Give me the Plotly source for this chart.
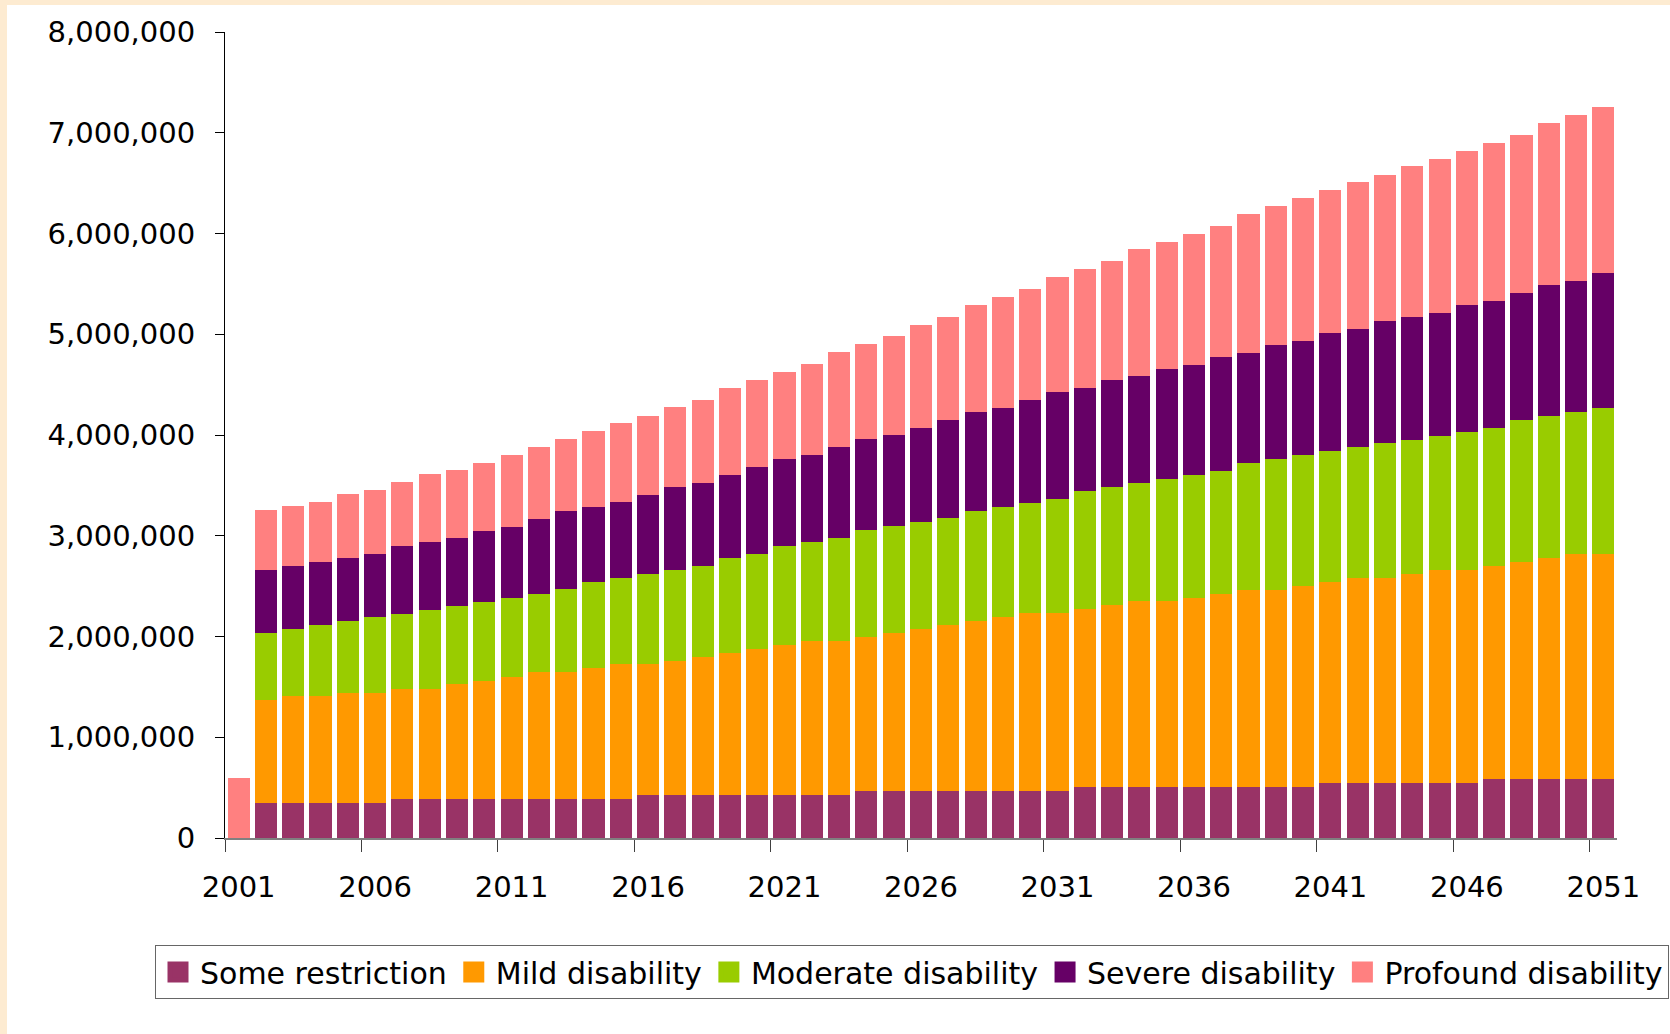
import plotly.graph_objects as go

# ---------------- data ----------------
years = list(range(2001, 2052))
tick_years = [2001, 2006, 2011, 2016, 2021, 2026, 2031, 2036, 2041, 2046, 2051]

some_restriction = [
    0, 351_000, 351_000, 351_000, 351_000, 351_000,
    387_000, 387_000, 387_000, 387_000, 387_000, 387_000, 387_000, 387_000, 387_000,
    427_000, 427_000, 427_000, 427_000, 427_000, 427_000, 427_000, 427_000,
    467_000, 467_000, 467_000, 467_000, 467_000, 467_000, 467_000, 467_000,
    506_000, 506_000, 506_000, 506_000, 506_000, 506_000, 506_000, 506_000, 506_000,
    549_000, 549_000, 549_000, 549_000, 549_000, 549_000,
    586_000, 586_000, 586_000, 586_000, 586_000,
]
mild = [
    0, 1_022_000, 1_062_000, 1_062_000, 1_089_000, 1_089_000, 1_093_000, 1_093_000,
    1_145_000, 1_172_000, 1_212_000, 1_265_000, 1_265_000, 1_304_000, 1_344_000,
    1_304_000, 1_331_000, 1_370_000, 1_410_000, 1_450_000, 1_490_000, 1_529_000,
    1_529_000, 1_529_000, 1_569_000, 1_608_000, 1_648_000, 1_688_000, 1_728_000,
    1_767_000, 1_767_000, 1_768_000, 1_808_000, 1_847_000, 1_847_000, 1_880_000,
    1_920_000, 1_960_000, 1_960_000, 2_000_000, 1_996_000, 2_036_000, 2_036_000,
    2_076_000, 2_115_000, 2_115_000, 2_118_000, 2_157_000, 2_197_000, 2_237_000,
    2_237_000,
]
moderate = [
    0, 663_000, 662_000, 702_000, 715_000, 755_000, 744_000, 784_000, 772_000,
    784_000, 784_000, 771_000, 821_000, 851_000, 851_000, 891_000, 903_000, 904_000,
    943_000, 943_000, 983_000, 983_000, 1_023_000, 1_063_000, 1_062_000, 1_063_000,
    1_063_000, 1_092_000, 1_092_000, 1_093_000, 1_132_000, 1_172_000, 1_172_000,
    1_172_000, 1_212_000, 1_219_000, 1_218_000, 1_258_000, 1_298_000, 1_297_000,
    1_298_000, 1_298_000, 1_338_000, 1_327_000, 1_328_000, 1_368_000, 1_368_000,
    1_408_000, 1_408_000, 1_407_000, 1_447_000,
]
severe = [
    0, 625_000, 626_000, 626_000, 625_000, 625_000, 676_000, 675_000, 675_000,
    706_000, 705_000, 745_000, 774_000, 745_000, 755_000, 784_000, 825_000, 824_000,
    825_000, 864_000, 864_000, 864_000, 904_000, 903_000, 904_000, 934_000, 973_000,
    983_000, 983_000, 1_023_000, 1_063_000, 1_023_000, 1_062_000, 1_063_000,
    1_092_000, 1_092_000, 1_133_000, 1_092_000, 1_132_000, 1_132_000, 1_172_000,
    1_172_000, 1_211_000, 1_222_000, 1_221_000, 1_261_000, 1_261_000, 1_261_000,
    1_301_000, 1_301_000, 1_341_000,
]
profound = [
    596_000, 596_000, 596_000, 596_000, 636_000, 636_000, 635_000, 676_000, 675_000,
    675_000, 715_000, 715_000, 715_000, 755_000, 784_000, 785_000, 794_000, 825_000,
    864_000, 864_000, 864_000, 904_000, 943_000, 944_000, 983_000, 1_022_000,
    1_023_000, 1_063_000, 1_102_000, 1_102_000, 1_142_000, 1_181_000, 1_182_000,
    1_261_000, 1_261_000, 1_301_000, 1_300_000, 1_381_000, 1_380_000, 1_420_000,
    1_420_000, 1_459_000, 1_450_000, 1_499_000, 1_530_000, 1_529_000, 1_569_000,
    1_569_000, 1_608_000, 1_649_000, 1_648_000,
]

series_names = ["Some restriction", "Mild disability", "Moderate disability",
                "Severe disability", "Profound disability"]
series_values = [some_restriction, mild, moderate, severe, profound]
series_colors = ["#993366", "#FF9900", "#99CC00", "#660066", "#FF8080"]

y_ticks = [0, 1_000_000, 2_000_000, 3_000_000, 4_000_000,
           5_000_000, 6_000_000, 7_000_000, 8_000_000]

FONT = "DejaVu Sans"

# ---------------- figure ----------------
fig = go.Figure()

for name, vals, col in zip(series_names, series_values, series_colors):
    fig.add_trace(go.Bar(
        x=years, y=vals, name=name, marker=dict(color=col, line=dict(width=0)),
        showlegend=False,
    ))

# legend entries with larger square swatches
for name, col in zip(series_names, series_colors):
    fig.add_trace(go.Scatter(
        x=[None], y=[None], mode="markers", name=name,
        marker=dict(symbol="square", size=16, color=col, line=dict(color=col, width=5)),
        showlegend=True,
    ))

W, H = 1670, 1034
ML, MR, MT, MB = 225, 53, 32, 196
PW, PH = W - ML - MR, H - MT - MB

fig.update_layout(
    width=W, height=H,
    margin=dict(l=ML, r=MR, t=MT, b=MB, autoexpand=False),
    paper_bgcolor="#FDEBD1",
    plot_bgcolor="white",
    barmode="stack",
    bargap=0.19,
    font=dict(family=FONT, size=29, color="#000000"),
    showlegend=True,
    legend=dict(
        orientation="h",
        x=(155 - ML) / PW, xanchor="left",
        y=-(945 - (H - MB)) / PH, yanchor="top",
        bgcolor="white", bordercolor="#666666", borderwidth=1,
        font=dict(family=FONT, size=30, color="#000000"),
        traceorder="normal",
        itemwidth=34,
    ),
    xaxis=dict(
        range=[2000.5, 2051.5],
        tickmode="array", tickvals=tick_years, ticktext=[str(t) for t in tick_years],
        ticks="", showgrid=False, zeroline=False,
        showline=True, linecolor="#808080", linewidth=2,
        ticklabelstandoff=22,
        minor=dict(tickmode="array", tickvals=[t - 0.5 for t in tick_years],
                   ticks="outside", ticklen=12, tickwidth=1, tickcolor="#404040"),
        tickfont=dict(family=FONT, size=29, color="#000000"),
    ),
    yaxis=dict(
        range=[0, 8_000_000],
        tickmode="array", tickvals=y_ticks, tickformat=",d",
        ticks="outside", ticklen=9, tickwidth=1, tickcolor="#000000",
        showline=True, linecolor="#000000", linewidth=1,
        showgrid=False, zeroline=False,
        ticklabelstandoff=14,
        tickfont=dict(family=FONT, size=29, color="#000000"),
    ),
    shapes=[dict(
        type="rect", xref="paper", yref="paper", layer="below",
        x0=(7 - ML) / PW, x1=(W + 20 - ML) / PW,
        y0=-(H + 20 - (H - MB)) / PH, y1=((H - MB) - 5) / PH,
        fillcolor="white", line=dict(width=0),
    )],
)

fig.write_html("out.html")
